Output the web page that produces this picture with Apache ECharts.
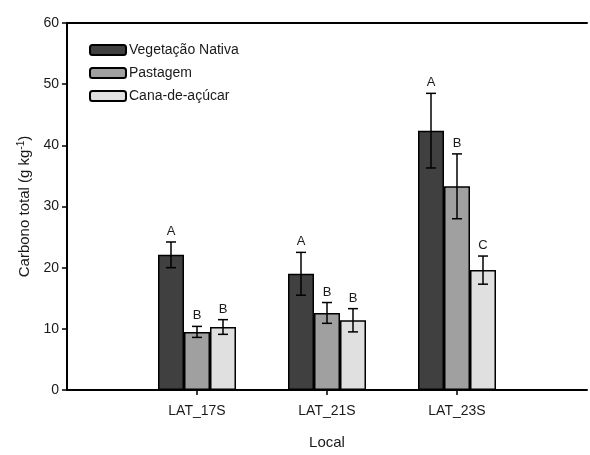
<!DOCTYPE html>
<html>
<head>
<meta charset="utf-8">
<script src="https://cdn.jsdelivr.net/npm/echarts@6/dist/echarts.min.js"></script>
<style>html,body{margin:0;padding:0;background:#fff;overflow:hidden;}#c{width:590px;height:455px;}</style>
</head>
<body>
<div id="c"></div>
<script>
var categories = ['', 'LAT_17S', 'LAT_21S', 'LAT_23S', ''];
var seriesNames = ['Vegetação Nativa', 'Pastagem', 'Cana-de-açúcar'];
var vegNativa = [null, 22.1, 19.0, 42.4, null];
var pastagem = [null, 9.5, 12.6, 33.3, null];
var canaAcucar = [null, 10.3, 11.4, 19.6, null];
var errVeg = [null, 2.1, 3.5, 6.1, null];
var errPast = [null, 0.9, 1.7, 5.3, null];
var errCana = [null, 1.2, 1.9, 2.3, null];
var lettersVeg = [null, 'A', 'A', 'A', null];
var lettersPast = [null, 'B', 'B', 'B', null];
var lettersCana = [null, 'B', 'B', 'C', null];
var yTicks = [0, 10, 20, 30, 40, 50, 60];

var means = [vegNativa, pastagem, canaAcucar];
var errs = [errVeg, errPast, errCana];
var letters = [lettersVeg, lettersPast, lettersCana];
var colors = ['#404040', '#a0a0a0', '#e0e0e0'];
var BAR_W = 26;

var errData = [];
for (var s = 0; s < 3; s++) {
  for (var c = 0; c < categories.length; c++) {
    if (means[s][c] == null) continue;
    errData.push([c, means[s][c] - errs[s][c], means[s][c] + errs[s][c], s, letters[s][c]]);
  }
}

var chart = echarts.init(document.getElementById('c'), null, {renderer: 'canvas'});
var font = 'Liberation Sans, Arial, sans-serif';
var txt = '#1a1a1a';
var barSeries = seriesNames.map(function (n, i) {
  return {
    name: n, type: 'bar', data: means[i], barWidth: BAR_W, barGap: '0%',
    itemStyle: {color: colors[i], borderColor: '#000', borderWidth: 1.5},
    emphasis: {disabled: true}, animation: false
  };
});
barSeries.push({
  type: 'custom', data: errData, animation: false, z: 10,
  renderItem: function (params, api) {
    var c = api.value(0), lo = api.value(1), hi = api.value(2), s = api.value(3);
    var letter = errData[params.dataIndex][4];
    var pLo = api.coord([c, lo]), pHi = api.coord([c, hi]);
    var x = pLo[0] + (s - 1) * BAR_W;
    var cap = 5;
    var st = {stroke: '#000', lineWidth: 1.5, fill: null};
    return {
      type: 'group', children: [
        {type: 'line', shape: {x1: x, y1: pLo[1], x2: x, y2: pHi[1]}, style: st},
        {type: 'line', shape: {x1: x - cap, y1: pLo[1], x2: x + cap, y2: pLo[1]}, style: st},
        {type: 'line', shape: {x1: x - cap, y1: pHi[1], x2: x + cap, y2: pHi[1]}, style: st},
        {type: 'text', style: {text: letter, x: x, y: pHi[1] - 4, align: 'center', verticalAlign: 'bottom',
          font: '13px ' + font, fill: txt}}
      ]
    };
  }
});

chart.setOption({
  animation: false,
  textStyle: {fontFamily: font},
  grid: {left: 67, right: -1, top: 23, bottom: 57},
  legend: {
    data: seriesNames, orient: 'vertical', left: 89, top: 43, itemWidth: 36, itemHeight: 10, itemGap: 9,
    padding: 0, icon: 'roundRect', selectedMode: false,
    textStyle: {fontSize: 14, color: txt, fontFamily: font, padding: [0, 0, 0, -2]}
  },
  xAxis: [{
    type: 'category', data: categories, boundaryGap: false,
    name: 'Local', nameLocation: 'middle', nameGap: 45,
    nameTextStyle: {fontSize: 15, color: txt, fontFamily: font},
    axisLine: {lineStyle: {color: '#000', width: 2}},
    axisTick: {length: 5, lineStyle: {color: '#000', width: 1.5}, interval: function (i, v) { return v !== ''; }},
    axisLabel: {fontSize: 14, color: txt, margin: 14, interval: 0},
    splitLine: {show: false}
  }, {
    type: 'category', data: categories, boundaryGap: false, position: 'top',
    axisLine: {lineStyle: {color: '#000', width: 2}},
    axisTick: {show: false}, axisLabel: {show: false}, splitLine: {show: false}
  }],
  yAxis: {
    type: 'value', min: yTicks[0], max: yTicks[yTicks.length - 1], interval: 10,
    name: '{a|Carbono total (g kg}{s|-1}{a|)}', nameLocation: 'middle', nameGap: 32,
    nameTextStyle: {rich: {a: {fontSize: 15, color: txt, fontFamily: font}, s: {fontSize: 10, color: txt, fontFamily: font, verticalAlign: 'top', padding: [0, 0, 7, 0]}}},
    axisLine: {show: true, lineStyle: {color: '#000', width: 2}},
    axisTick: {show: true, length: 5, lineStyle: {color: '#000', width: 1.5}},
    axisLabel: {fontSize: 14, color: txt, margin: 8},
    splitLine: {show: false}
  },
  series: barSeries
});
</script>
</body>
</html>
